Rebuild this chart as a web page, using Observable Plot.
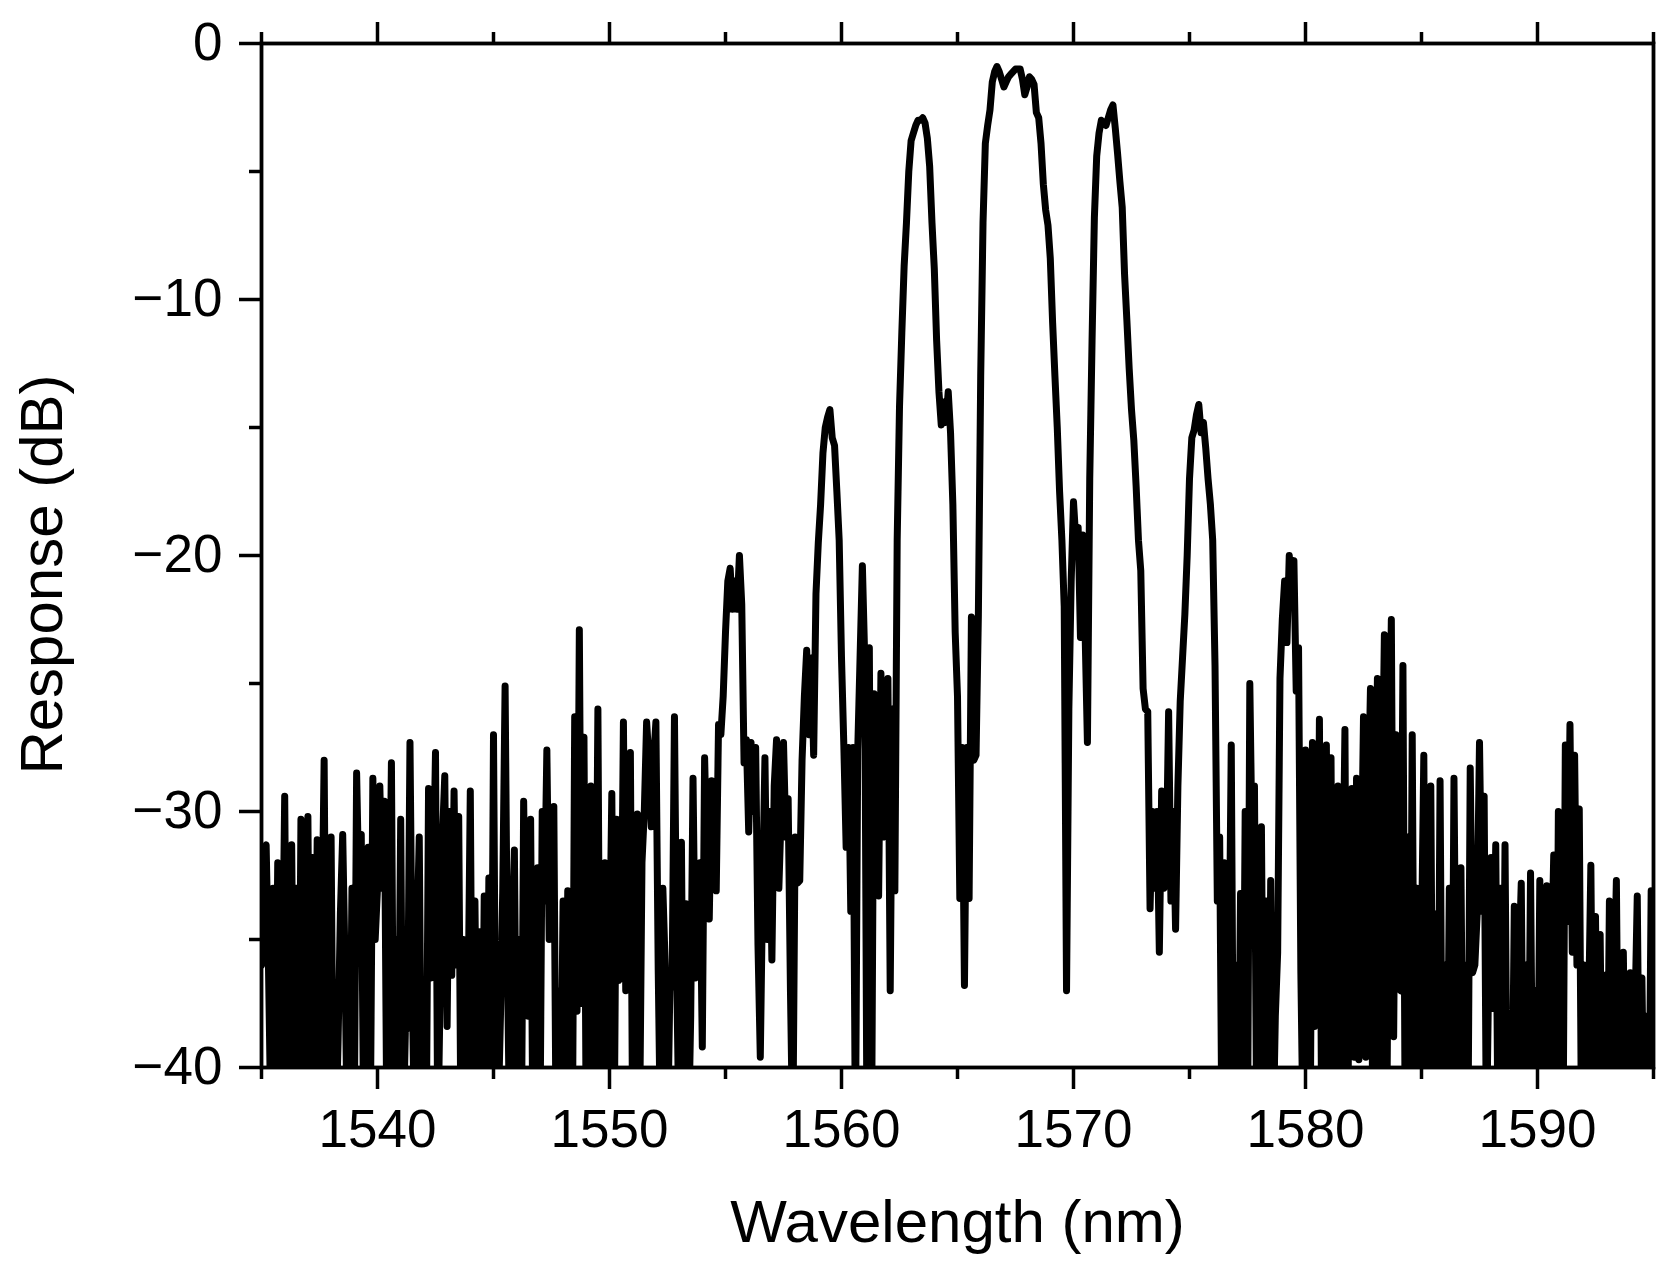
<!DOCTYPE html>
<html>
<head>
<meta charset="utf-8">
<script src="https://cdn.jsdelivr.net/npm/d3@7"></script>
<script src="https://cdn.jsdelivr.net/npm/@observablehq/plot@0.6"></script>
<style>
  body { margin: 0; background: #fff; }
</style>
</head>
<body>
<div id="chart"></div>
<script>
// valores, una fila por nm. Los que bajan de -40 quedan cortados por el eje
const wavelengthLeft = [
  1535.0,1535.1,1535.2,1535.3,1535.4,1535.5,1535.6,1535.7,1535.8,1535.9,
  1536.0,1536.1,1536.2,1536.3,1536.4,1536.5,1536.6,1536.7,1536.8,1536.9,
  1537.0,1537.1,1537.2,1537.3,1537.4,1537.5,1537.6,1537.7,1537.8,1537.9,
  1538.0,1538.1,1538.2,1538.3,1538.4,1538.5,1538.6,1538.7,1538.8,1538.9,
  1539.0,1539.1,1539.2,1539.3,1539.4,1539.5,1539.6,1539.7,1539.8,1539.9,
  1540.0,1540.1,1540.2,1540.3,1540.4,1540.5,1540.6,1540.7,1540.8,1540.9,
  1541.0,1541.1,1541.2,1541.3,1541.4,1541.5,1541.6,1541.7,1541.8,1541.9,
  1542.0,1542.1,1542.2,1542.3,1542.4,1542.5,1542.6,1542.7,1542.8,1542.9,
  1543.0,1543.1,1543.2,1543.3,1543.4,1543.5,1543.6,1543.7,1543.8,1543.9,
  1544.0,1544.1,1544.2,1544.3,1544.4,1544.5,1544.6,1544.7,1544.8,1544.9,
  1545.0,1545.1,1545.2,1545.3,1545.4,1545.5,1545.6,1545.7,1545.8,1545.9,
  1546.0,1546.1,1546.2,1546.3,1546.4,1546.5,1546.6,1546.7,1546.8,1546.9,
  1547.0,1547.1,1547.2,1547.3,1547.4,1547.5,1547.6,1547.7,1547.8,1547.9,
  1548.0,1548.1,1548.2,1548.3,1548.4,1548.5,1548.6,1548.7,1548.8,1548.9,
  1549.0,1549.1,1549.2,1549.3,1549.4,1549.5,1549.6,1549.7,1549.8,1549.9,
  1550.0,1550.1,1550.2,1550.3,1550.4,1550.5,1550.6,1550.7,1550.8,1550.9,
  1551.0,1551.1,1551.2,1551.3,1551.4,1551.5,1551.6,1551.7,1551.8,1551.9,
  1552.0,1552.1,1552.2,1552.3,1552.4,1552.5,1552.6,1552.7,1552.8,1552.9,
  1553.0,1553.1,1553.2,1553.3,1553.4,1553.5,1553.6,1553.7,1553.8,1553.9,
  1554.0,1554.1,1554.2,1554.3,1554.4,1554.5,1554.6,1554.7,1554.8,1554.9,
  1555.0,1555.1,1555.2,1555.3,1555.4,1555.5,1555.6,1555.7,1555.8,1555.9
]
const responseLeft = [
  -36,-31.6,-31.3,-36,-42,-33,-41,-32,-42,-37,
  -29.4,-41,-38,-31.3,-42,-33,-43,-30.3,-41,-36,
  -30.2,-42,-31.8,-40.5,-31.1,-43,-35,-28,-41,-36,
  -31,-43,-43,-39,-34,-30.9,-36,-43,-42,-33,
  -42,-28.5,-33.2,-30.9,-42,-35,-31.4,-41,-28.7,-35,
  -33,-29,-33,-29.6,-42,-36,-28.1,-42,-35,-41,
  -30.3,-43,-38.6,-38.4,-27.3,-37,-43,-35,-31,-43,
  -38,-43,-29.1,-36.5,-33,-27.7,-43,-37,-31,-28.6,
  -38.4,-30,-36.4,-29.2,-36,-30.2,-43,-35,-43,-38,
  -29.2,-43,-33.5,-42,-34.7,-43,-33.3,-43,-32.6,-42,
  -27,-41,-42,-38,-33,-25.1,-36,-43,-35,-31.5,
  -42,-35,-43,-29.6,-36.5,-38,-30.3,-43,-36,-32.2,
  -43,-30,-33.5,-27.6,-35,-34,-29.8,-43,-37,-42,
  -33.5,-43,-33.1,-36,-43,-26.3,-37.8,-22.9,-37.5,-27.1,
  -43,-34,-29,-43,-38,-26,-42,-34,-32,-43,
  -36,-29.3,-43,-30.3,-36.6,-36.4,-26.5,-37,-34,-27.7,
  -43,-35,-30.1,-42,-32,-30,-26.5,-28,-30.6,-28,
  -26.5,-36.2,-43,-33,-36,-43,-37,-36.5,-26.3,-36.5,
  -43,-31.2,-43,-33.6,-43,-38,-28.7,-36.5,-33,-32,
  -39.2,-27.9,-32,-34.2,-28.8,-30,-33.1,-26.6,-27,-25.5,
  -23,-21,-20.5,-22.1,-21,-22.1,-20,-21.9,-28.1,-27.2
]

const wavelengthCentre = [
  1556.0,1556.1,1556.2,1556.3,1556.4,1556.5,1556.6,1556.7,1556.8,1556.9,
  1557.0,1557.1,1557.2,1557.3,1557.4,1557.5,1557.6,1557.7,1557.8,1557.9,
  1558.0,1558.1,1558.2,1558.3,1558.4,1558.5,1558.6,1558.7,1558.8,1558.9,
  1559.0,1559.1,1559.2,1559.3,1559.4,1559.5,1559.6,1559.7,1559.8,1559.9,
  1560.0,1560.1,1560.2,1560.3,1560.4,1560.5,1560.6,1560.7,1560.8,1560.9,
  1561.0,1561.1,1561.2,1561.3,1561.4,1561.5,1561.6,1561.7,1561.8,1561.9,
  1562.0,1562.1,1562.2,1562.3,1562.4,1562.5,1562.6,1562.7,1562.8,1562.9,
  1563.0,1563.1,1563.2,1563.3,1563.4,1563.5,1563.6,1563.7,1563.8,1563.9,
  1564.0,1564.1,1564.2,1564.3,1564.4,1564.5,1564.6,1564.7,1564.8,1564.9,
  1565.0,1565.1,1565.2,1565.3,1565.4,1565.5,1565.6,1565.7,1565.8,1565.9,
  1566.0,1566.1,1566.2,1566.3,1566.4,1566.5,1566.6,1566.7,1566.8,1566.9,
  1567.0,1567.1,1567.2,1567.3,1567.4,1567.5,1567.6,1567.7,1567.8,1567.9,
  1568.0,1568.1,1568.2,1568.3,1568.4,1568.5,1568.6,1568.7,1568.8,1568.9,
  1569.0,1569.1,1569.2,1569.3,1569.4,1569.5,1569.6,1569.7,1569.8,1569.9,
  1570.0,1570.1,1570.2,1570.3,1570.4,1570.5,1570.6,1570.7,1570.8,1570.9,
  1571.0,1571.1,1571.2,1571.3,1571.4,1571.5,1571.6,1571.7,1571.8,1571.9,
  1572.0,1572.1,1572.2,1572.3,1572.4,1572.5,1572.6,1572.7,1572.8,1572.9,
  1573.0,1573.1,1573.2,1573.3,1573.4,1573.5,1573.6,1573.7,1573.8,1573.9,
  1574.0,1574.1,1574.2,1574.3,1574.4,1574.5,1574.6,1574.7,1574.8,1574.9,
  1575.0,1575.1,1575.2,1575.3,1575.4,1575.5,1575.6,1575.7,1575.8,1575.9
]
const responseCentre = [
  -30.8,-27.3,-30,-27.5,-35.2,-39.6,-33,-27.9,-35,-30,
  -35.8,-29,-27.2,-33,-30,-27.3,-31,-29.5,-37,-43,
  -31,-32.8,-32.7,-28,-25.5,-23.7,-27,-24,-27.8,-21.5,
  -19.5,-18,-16,-15,-14.6,-14.3,-15.4,-15.7,-17.5,-19.4,
  -24,-27.4,-31.4,-27.5,-33.9,-27.5,-43,-27.6,-24,-20.4,
  -24,-43,-23.6,-42,-25.4,-29,-33.3,-24.6,-31,-30,
  -24.8,-37,-26,-33.1,-19.4,-14.2,-11.3,-8.7,-7,-5,
  -3.8,-3.5,-3.2,-3,-3,-2.9,-3.1,-3.7,-4.8,-7,
  -8.8,-11.6,-13.6,-14.9,-14,-14.8,-13.6,-15.2,-18,-23,
  -25.5,-33.4,-27.5,-36.8,-27.5,-33.4,-22.4,-28,-27.8,-22.3,
  -13,-7,-3.9,-3.2,-2.6,-1.5,-1.1,-0.9,-1.1,-1.4,
  -1.7,-1.5,-1.3,-1.2,-1.1,-1,-1,-1,-1.4,-2,
  -1.7,-1.3,-1.4,-1.6,-2.7,-2.9,-3.9,-5.5,-6.5,-7.1,
  -8.4,-10.9,-13,-15,-17.5,-19.4,-22,-37,-26,-21,
  -17.9,-19.4,-18.9,-23.2,-19.2,-23,-27.3,-17,-11.6,-6.8,
  -4.4,-3.5,-3,-3.1,-3.2,-2.9,-2.6,-2.4,-3.3,-4.3,
  -5.4,-6.4,-9,-10.8,-12.7,-14.3,-15.5,-17.3,-19.4,-20.6,
  -25.2,-26,-26.1,-33.8,-30,-33,-30,-35.5,-29.2,-33,
  -32,-26.1,-33.5,-30,-34.6,-29,-25.7,-24,-22.3,-20,
  -17,-15.4,-15.1,-14.5,-14.1,-15.2,-14.8,-15.8,-17,-18
]

const wavelengthRight = [
  1576.0,1576.1,1576.2,1576.3,1576.4,1576.5,1576.6,1576.7,1576.8,1576.9,
  1577.0,1577.1,1577.2,1577.3,1577.4,1577.5,1577.6,1577.7,1577.8,1577.9,
  1578.0,1578.1,1578.2,1578.3,1578.4,1578.5,1578.6,1578.7,1578.8,1578.9,
  1579.0,1579.1,1579.2,1579.3,1579.4,1579.5,1579.6,1579.7,1579.8,1579.9,
  1580.0,1580.1,1580.2,1580.3,1580.4,1580.5,1580.6,1580.7,1580.8,1580.9,
  1581.0,1581.1,1581.2,1581.3,1581.4,1581.5,1581.6,1581.7,1581.8,1581.9,
  1582.0,1582.1,1582.2,1582.3,1582.4,1582.5,1582.6,1582.7,1582.8,1582.9,
  1583.0,1583.1,1583.2,1583.3,1583.4,1583.5,1583.6,1583.7,1583.8,1583.9,
  1584.0,1584.1,1584.2,1584.3,1584.4,1584.5,1584.6,1584.7,1584.8,1584.9,
  1585.0,1585.1,1585.2,1585.3,1585.4,1585.5,1585.6,1585.7,1585.8,1585.9,
  1586.0,1586.1,1586.2,1586.3,1586.4,1586.5,1586.6,1586.7,1586.8,1586.9,
  1587.0,1587.1,1587.2,1587.3,1587.4,1587.5,1587.6,1587.7,1587.8,1587.9,
  1588.0,1588.1,1588.2,1588.3,1588.4,1588.5,1588.6,1588.7,1588.8,1588.9,
  1589.0,1589.1,1589.2,1589.3,1589.4,1589.5,1589.6,1589.7,1589.8,1589.9,
  1590.0,1590.1,1590.2,1590.3,1590.4,1590.5,1590.6,1590.7,1590.8,1590.9,
  1591.0,1591.1,1591.2,1591.3,1591.4,1591.5,1591.6,1591.7,1591.8,1591.9,
  1592.0,1592.1,1592.2,1592.3,1592.4,1592.5,1592.6,1592.7,1592.8,1592.9,
  1593.0,1593.1,1593.2,1593.3,1593.4,1593.5,1593.6,1593.7,1593.8,1593.9,
  1594.0,1594.1,1594.2,1594.3,1594.4,1594.5,1594.6,1594.7,1594.8,1594.9,
  1595.0
]
const responseRight = [
  -19.4,-24.3,-33.5,-31,-43,-32,-43,-37,-27.4,-43,
  -36,-43,-33.2,-43,-30,-43,-25,-31.6,-29,-43,
  -34,-30.6,-43,-33.5,-43,-32.7,-43,-38,-35.5,-24.8,
  -22.5,-21,-23.4,-20,-21.5,-20.2,-25.3,-23.6,-36.3,-43,
  -27.6,-35,-43,-27.3,-38.4,-38.2,-26.4,-43,-36,-27.4,
  -43,-27.9,-43,-35,-29,-43,-34,-26.8,-43,-36,
  -29.1,-39.6,-28.7,-39.7,-33,-26.3,-39.6,-30,-25.2,-43,
  -32,-24.8,-43,-30,-23.1,-43,-29,-22.5,-38.8,-27,
  -36.9,-37,-24.3,-43,-31,-43,-27,-43,-33,-43,
  -35,-27.8,-43,-36,-29,-43,-34,-43,-28.8,-43,
  -36,-43,-33,-43,-28.7,-39.4,-43,-32.2,-43,-36,
  -43,-28.3,-36.3,-36,-34,-27.3,-33.9,-29.4,-43,-36,
  -31.8,-37.7,-31.3,-43,-33,-43,-31.3,-43,-38,-43,
  -33.7,-43,-36,-32.8,-43,-36,-43,-32.4,-43,-37,
  -43,-32.7,-43,-36,-32.9,-43,-36,-31.7,-43,-30,
  -43,-43,-27.4,-34.3,-26.6,-35.5,-27.8,-36,-29.9,-43,
  -36,-43,-38,-32.1,-43,-34.1,-43,-34.8,-43,-36.4,
  -43,-33.5,-43,-37,-32.7,-43,-38,-35.5,-43,-38,
  -36.3,-43,-38,-33.3,-43,-36.5,-43,-38,-43,-33.1,
  -36
]

const xMajor = [1540, 1550, 1560, 1570, 1580, 1590]
const xMinor = [1535, 1545, 1555, 1565, 1575, 1585, 1595]
const yMajor = [0, -10, -20, -30, -40]
const yMinor = [-5, -15, -25, -35]

const wavelength = [...wavelengthLeft, ...wavelengthCentre, ...wavelengthRight]
const response = [...responseLeft, ...responseCentre, ...responseRight]
if (wavelength.length !== response.length) console.error('largos distintos', wavelength.length, response.length)

const spectrum = wavelength.map((d, i) => ({ wavelength: d, response: response[i] }))
const blank = () => ''

const chart = Plot.plot({
  width: 1675,
  height: 1271,
  marginLeft: 261,
  marginRight: 22,
  marginTop: 43,
  marginBottom: 204,
  style: { fontFamily: '"Liberation Sans", Arial, sans-serif', background: '#fff', color: '#000' },
  x: { domain: [1535, 1595], label: null },
  y: { domain: [-40, 0], label: null },
  marks: [
    Plot.line(spectrum, { x: 'wavelength', y: 'response', stroke: '#000', strokeWidth: 7, clip: true }),
    Plot.frame({ stroke: '#000', strokeWidth: 3.8 }),
    Plot.axisX(xMajor, { anchor: 'bottom', tickSize: 22, tickPadding: 20, strokeWidth: 3.5, fontSize: 53, tickFormat: d => String(d), label: null }),
    Plot.axisX(xMinor, { anchor: 'bottom', tickSize: 12, strokeWidth: 3.5, tickFormat: blank, label: null }),
    Plot.axisX(xMajor, { anchor: 'top', tickSize: 22, strokeWidth: 3.5, tickFormat: blank, label: null }),
    Plot.axisX(xMinor, { anchor: 'top', tickSize: 12, strokeWidth: 3.5, tickFormat: blank, label: null }),
    Plot.axisY(yMajor, { anchor: 'left', tickSize: 22, tickPadding: 17, strokeWidth: 3.5, fontSize: 53, label: null }),
    Plot.axisY(yMinor, { anchor: 'left', tickSize: 12, strokeWidth: 3.5, tickFormat: blank, label: null }),
    Plot.text(['Wavelength (nm)'], { frameAnchor: 'bottom', dy: 174, fontSize: 60, fill: '#000' }),
    Plot.text(['Response (dB)'], { frameAnchor: 'left', textAnchor: 'middle', dx: -219, dy: 19, rotate: -90, fontSize: 60, fill: '#000' }),
  ],
})

d3.select('#chart').append(() => chart)
</script>
</body>
</html>
